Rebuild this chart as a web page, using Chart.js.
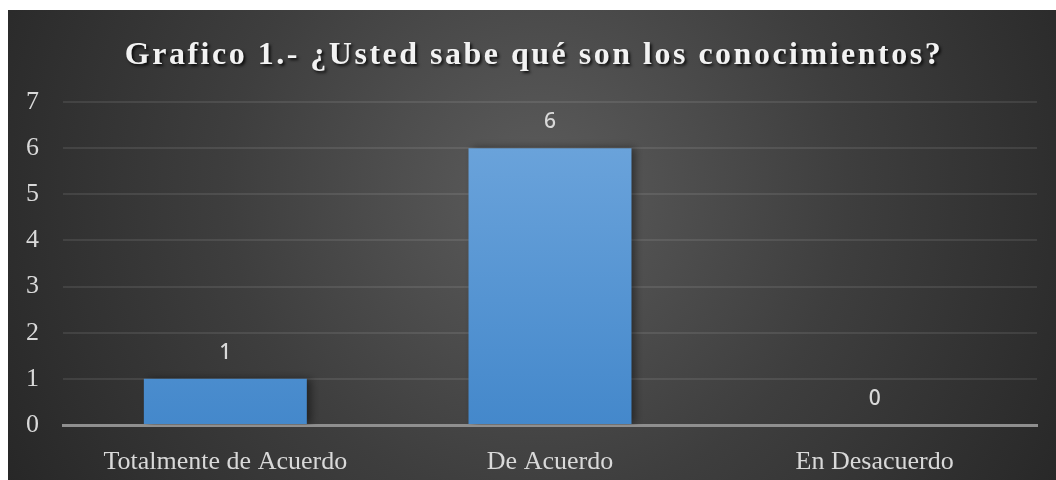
<!DOCTYPE html>
<html>
<head>
<meta charset="utf-8">
<script src="https://cdn.jsdelivr.net/npm/chart.js@4"></script>
<style>
  html, body { margin: 0; padding: 0; background: #ffffff; }
  #wrap { position: absolute; left: 8px; top: 10px; width: 1048px; height: 470px; }
</style>
</head>
<body>
<div id="wrap"><canvas id="encuesta"></canvas></div>
<script>
const categorias = ['Totalmente de Acuerdo', 'De Acuerdo', 'En Desacuerdo'];
const respuestas = [1, 6, 0];
const yTicks = [0, 1, 2, 3, 4, 5, 6, 7];
const titulo = 'Grafico 1.- ¿Usted sabe qué son los conocimientos?';

// dark backdrop with a soft light spot behind the middle bar
const fondo = {
    id: 'fondo',
    beforeDraw(chart) {
        const { ctx, width, height } = chart;
        const g = ctx.createRadialGradient(530, 180, 0, 530, 180, 620);
        g.addColorStop(0, '#5c5c5c');
        g.addColorStop(0.5, '#3e3e3e');
        g.addColorStop(1, '#262626');
        ctx.save();
        ctx.fillStyle = g;
        ctx.fillRect(0, 0, width, height);
        ctx.restore();
    }
};

// title drawn by hand so it can have letter spacing and a shadow
const tituloPlugin = {
    id: 'tituloPlugin',
    afterDraw(chart) {
        const { ctx, width } = chart;
        ctx.save();
        ctx.font = 'bold 32px "Liberation Serif"';
        ctx.letterSpacing = '2.5px';
        ctx.textAlign = 'center';
        ctx.textBaseline = 'middle';
        ctx.shadowColor = 'rgba(0,0,0,0.8)';
        ctx.shadowOffsetX = 2;
        ctx.shadowOffsetY = 2;
        ctx.shadowBlur = 3;
        ctx.fillStyle = '#f2f2f2';
        ctx.fillText(titulo, width / 2 + 2, 46);
        ctx.restore();
    }
};

// shadow on the right of the bars
const sombra = {
    id: 'sombra',
    beforeDatasetsDraw(chart) {
        const ctx = chart.ctx;
        ctx.save();
        ctx.shadowColor = 'rgba(0,0,0,0.45)';
        ctx.shadowBlur = 8;
        ctx.shadowOffsetX = 4;
        ctx.shadowOffsetY = 0;
    },
    afterDatasetsDraw(chart) {
        chart.ctx.restore();
    }
};

// value labels above each bar
const etiquetas = {
    id: 'etiquetas',
    afterDatasetsDraw(chart) {
        const { ctx } = chart;
        const meta = chart.getDatasetMeta(0);
        ctx.save();
        ctx.font = '500 21px "Noto Sans"';
        ctx.fillStyle = '#d9d9d9';
        ctx.textAlign = 'center';
        ctx.textBaseline = 'middle';
        meta.data.forEach((bar, i) => {
            ctx.fillText(String(respuestas[i]), bar.x, bar.y - 26);
        });
        ctx.restore();
    }
};

const ctx = document.getElementById('encuesta').getContext('2d');
const gradiente = ctx.createLinearGradient(0, 92, 0, 415);
gradiente.addColorStop(0, '#70a7dd');
gradiente.addColorStop(1, '#4488cb');

new Chart(ctx, {
    type: 'bar',
    data: {
        labels: categorias,
        datasets: [{
            data: respuestas,
            backgroundColor: gradiente,
            borderWidth: 0,
            barPercentage: 1,
            categoryPercentage: 0.502
        }]
    },
    options: {
        responsive: true,
        maintainAspectRatio: false,
        animation: false,
        layout: { padding: { top: 92, right: 19, bottom: 0, left: 0 } },
        plugins: {
            legend: { display: false },
            tooltip: { enabled: false }
        },
        scales: {
            x: {
                grid: { display: false, drawTicks: false },
                border: { color: '#8f8f8f', width: 3 },
                ticks: {
                    color: '#d9d9d9',
                    font: { family: '"Liberation Serif"', size: 26 },
                    padding: 22,
                    maxRotation: 0
                },
                afterFit(scale) { scale.height = 55; }
            },
            y: {
                min: 0,
                max: 7,
                afterBuildTicks(scale) { scale.ticks = yTicks.map(v => ({ value: v })); },
                grid: { color: 'rgba(255,255,255,0.09)', lineWidth: 2, drawTicks: false },
                border: { display: false },
                ticks: {
                    color: '#d9d9d9',
                    font: { family: '"Liberation Serif"', size: 26 },
                    padding: 24
                },
                afterFit(scale) { scale.width = 55; }
            }
        }
    },
    plugins: [fondo, sombra, etiquetas, tituloPlugin]
});
</script>
</body>
</html>
